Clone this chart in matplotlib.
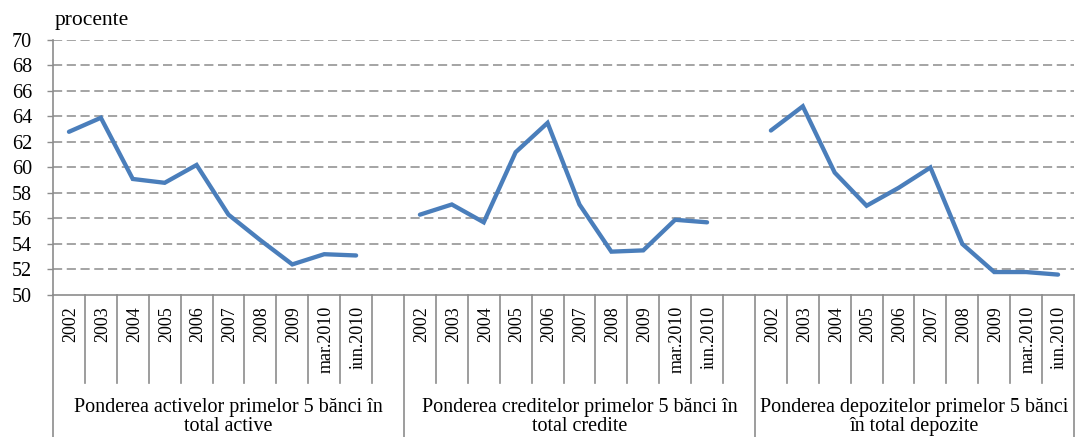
import numpy as np
import matplotlib
matplotlib.use("Agg")
import matplotlib.pyplot as plt
import matplotlib.transforms as mtransforms

# ---- data ----
periods = ["2002", "2003", "2004", "2005", "2006", "2007", "2008", "2009", "mar.2010", "iun.2010"]
groups = ["Ponderea activelor primelor 5 bănci în\ntotal active",
          "Ponderea creditelor primelor 5 bănci în\ntotal credite",
          "Ponderea depozitelor primelor 5 bănci\nîn total depozite"]
active = [62.8, 63.9, 59.1, 58.8, 60.2, 56.3, 54.3, 52.4, 53.2, 53.1]
credite = [56.3, 57.1, 55.7, 61.2, 63.5, 57.1, 53.4, 53.5, 55.9, 55.7]
depozite = [62.9, 64.8, 59.6, 57.0, 58.4, 60.0, 54.0, 51.8, 51.8, 51.6]
series = [active, credite, depozite]
yticks = list(range(50, 71, 2))

plt.rcParams['font.family'] = ['Liberation Serif', 'DejaVu Serif']
FS = 13
FSH = 14.5
GRAY = "#8c8c8c"
BLUE = "#4a7ebb"

fig = plt.figure(figsize=(10.8, 4.37), dpi=100)
W, H = 1080, 437
left, right, top, bottom = 53, 1074, 40, 295
ax = fig.add_axes([left / W, (H - bottom) / H, (right - left) / W, (bottom - top) / H])

# category layout: each group has its periods plus a blank slot, except the last
cats = []
vals = []
group_bounds = []
for gi, (g, s) in enumerate(zip(groups, series)):
    start = len(cats)
    cats += periods
    vals += list(s)
    if gi < len(groups) - 1:
        cats.append("")
        vals.append(np.nan)
    group_bounds.append((start, len(cats)))
n = len(cats)
x = np.arange(n) + 0.5
vals = np.array(vals, dtype=float)

ax.plot(x, vals, color=BLUE, lw=3.1, solid_joinstyle="miter", solid_capstyle="round", zorder=3)

ax.set_xlim(0, n)
ax.set_ylim(50, 70)
ax.set_yticks(yticks)
ax.set_yticklabels([str(t) for t in yticks], fontsize=FSH)
ax.tick_params(axis="y", length=4, color=GRAY, pad=11, width=1)
ax.set_xticks([])
for t in yticks[1:]:
    ax.axhline(t, color=GRAY, lw=1.1, linestyle=(0, (6, 3)), zorder=1)
for sp in ["top", "right"]:
    ax.spines[sp].set_visible(False)
ax.spines["left"].set_color(GRAY)
ax.spines["bottom"].set_color(GRAY)
ax.spines["left"].set_linewidth(1.2)
ax.spines["bottom"].set_linewidth(1.2)

trans = mtransforms.blended_transform_factory(ax.transData, ax.transAxes)
ph = bottom - top
tick_bot = -(383 - bottom) / ph
grp_bot = -(437 - bottom) / ph

# category tick separators
for i in range(n + 1):
    is_group = any(i == b[0] for b in group_bounds) or i == n
    y0 = grp_bot if is_group else tick_bot
    ax.plot([i, i], [0, y0], transform=trans, color=GRAY, lw=1.2, clip_on=False, zorder=2)

# category labels
for i, c in enumerate(cats):
    if c:
        ax.text(i + 0.55, -(306 - bottom) / ph, c, transform=trans, rotation=90,
                ha="center", va="top", fontsize=FS)

# group labels
for (s, e), g in zip(group_bounds, groups):
    ax.text((s + e) / 2, -(417 - bottom) / ph, g, transform=trans, ha="center", va="center",
            fontsize=FSH, linespacing=0.95)

fig.text(55 / W, 1 - 20 / H, "procente", ha="left", va="center", fontsize=15.5)

fig.savefig("out.png", dpi=100)
